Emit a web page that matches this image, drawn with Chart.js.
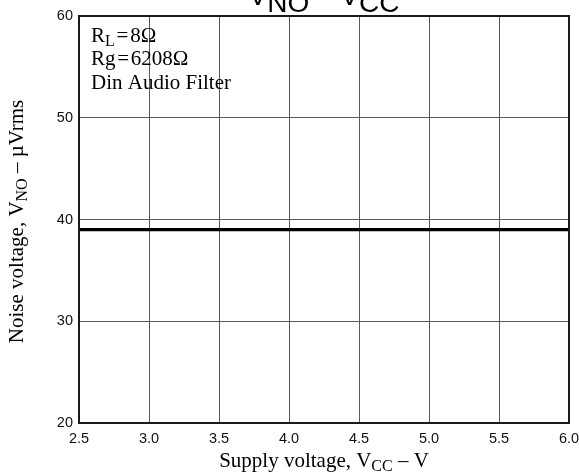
<!DOCTYPE html>
<html>
<head>
<meta charset="utf-8">
<script src="https://cdn.jsdelivr.net/npm/chart.js@4"></script>
<style>
  html, body { margin: 0; padding: 0; background: #fff; }
  #wrap { width: 579px; height: 472px; position: relative; }
</style>
</head>
<body>
<div id="wrap"><canvas id="c"></canvas></div>
<script>
// ---- data ----
const supplyVoltage = [2.5, 3.0, 3.5, 4.0, 4.5, 5.0, 5.5, 6.0];
const noiseVoltage  = [39, 39, 39, 39, 39, 39, 39, 39];
const xTickValues = [2.5, 3.0, 3.5, 4.0, 4.5, 5.0, 5.5, 6.0];
const yTickValues = [20, 30, 40, 50, 60];
const annotationLines = [
  [{t: 'R'}, {t: 'L', sub: true}, {t: '\u200A=\u200A8\u03A9'}],
  [{t: 'Rg\u200A=\u200A6208\u03A9'}],
  [{t: 'Din Audio Filter'}]
];
const titleParts = [{t: 'V'}, {t: 'NO', sub: true}, {t: ' \u2013 V'}, {t: 'CC', sub: true}];
const xTitleParts = [{t: 'Supply voltage, V'}, {t: 'CC', sub: true}, {t: ' \u2013 V'}];
const yTitleParts = [{t: 'Noise voltage, V'}, {t: 'NO', sub: true}, {t: ' \u2013 \u00B5Vrms'}];

const SANS = '"Liberation Sans", Arial, sans-serif';
const SERIF = '"Liberation Serif", "Times New Roman", serif';

function richWidth(ctx, parts, size, subSize, family) {
  let w = 0;
  parts.forEach(p => {
    ctx.font = (p.sub ? subSize : size) + 'px ' + family;
    w += ctx.measureText(p.t).width;
  });
  return w;
}
function drawRich(ctx, parts, x, y, size, subSize, subDy, family, align) {
  const total = richWidth(ctx, parts, size, subSize, family);
  let cx = align === 'center' ? x - total / 2 : x;
  ctx.textBaseline = 'alphabetic';
  ctx.textAlign = 'left';
  parts.forEach(p => {
    ctx.font = (p.sub ? subSize : size) + 'px ' + family;
    ctx.fillText(p.t, cx, y + (p.sub ? subDy : 0));
    cx += ctx.measureText(p.t).width;
  });
}

const textPlugin = {
  id: 'textPlugin',
  afterDraw(chart) {
    const ctx = chart.ctx;
    const a = chart.chartArea;
    const midX = (a.left + a.right) / 2;
    const midY = (a.top + a.bottom) / 2;
    ctx.save();
    // frame
    ctx.strokeStyle = '#1a1a1a';
    ctx.lineWidth = 2;
    ctx.strokeRect(a.left, a.top, a.right - a.left, a.bottom - a.top);
    ctx.fillStyle = '#000';
    // title (cut at top)
    drawRich(ctx, titleParts, midX, 5, 28, 28, 7, SANS, 'center');
    // x title
    drawRich(ctx, xTitleParts, midX, 467, 21, 16, 4, SERIF, 'center');
    // y title
    ctx.save();
    ctx.translate(23, midY + 2);
    ctx.rotate(-Math.PI / 2);
    drawRich(ctx, yTitleParts, 0, 0, 21, 16, 4, SERIF, 'center');
    ctx.restore();
    // annotation
    const baselines = [42, 65, 89];
    annotationLines.forEach((line, i) => {
      drawRich(ctx, line, a.left + 12, baselines[i], 21, 16, 4, SERIF, 'left');
    });
    ctx.restore();
  }
};

new Chart(document.getElementById('c'), {
  type: 'line',
  data: {
    datasets: [{
      data: supplyVoltage.map((x, i) => ({x: x, y: noiseVoltage[i]})),
      borderColor: '#000',
      borderWidth: 3.2,
      pointRadius: 0,
      fill: false,
      tension: 0
    }]
  },
  options: {
    responsive: true,
    maintainAspectRatio: false,
    animation: false,
    layout: { padding: { top: 16, right: 10, left: 0, bottom: 0 } },
    plugins: { legend: { display: false }, tooltip: { enabled: false }, title: { display: false } },
    scales: {
      x: {
        type: 'linear',
        min: 2.5, max: 6.0,
        afterBuildTicks: s => { s.ticks = xTickValues.map(v => ({value: v})); },
        afterFit: s => { s.height = 49; s.paddingLeft = 0; s.paddingRight = 0; },
        grid: { color: '#5a5a5a', lineWidth: 1, drawTicks: false },
        border: { color: '#1a1a1a', width: 2 },
        ticks: {
          color: '#111', padding: 7, maxRotation: 0, autoSkip: false,
          font: { family: SANS, size: 14.5 },
          callback: v => Number(v).toFixed(1)
        }
      },
      y: {
        min: 20, max: 60,
        afterBuildTicks: s => { s.ticks = yTickValues.map(v => ({value: v})); },
        afterFit: s => { s.width = 79; s.paddingTop = 0; s.paddingBottom = 0; },
        grid: { color: '#5a5a5a', lineWidth: 1, drawTicks: false },
        border: { color: '#1a1a1a', width: 2 },
        ticks: {
          color: '#111', padding: 6,
          font: { family: SANS, size: 14.5 },
          callback: v => String(v)
        }
      }
    }
  },
  plugins: [textPlugin]
});
</script>
</body>
</html>
